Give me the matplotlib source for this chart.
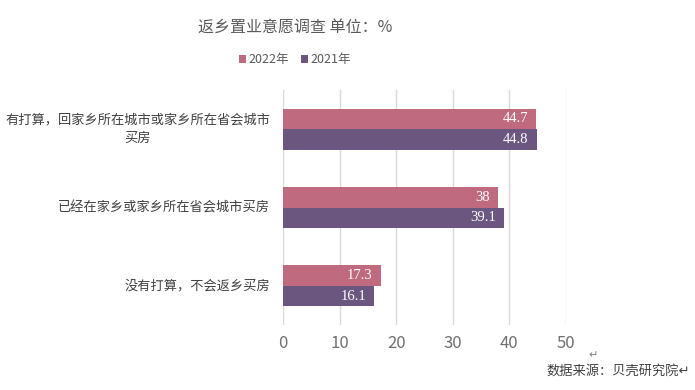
import matplotlib
matplotlib.use("Agg")
import matplotlib.pyplot as plt
import numpy as np

plt.rcParams['font.family'] = ['Noto Sans CJK SC', 'DejaVu Sans']

categories = ["有打算，回家乡所在城市或家乡所在省会城市\n买房",
              "已经在家乡或家乡所在省会城市买房",
              "没有打算，不会返乡买房"]
series_names = ["2022年", "2021年"]
values_2022 = [44.7, 38, 17.3]
values_2021 = [44.8, 39.1, 16.1]
labels_2022 = ["44.7", "38", "17.3"]
labels_2021 = ["44.8", "39.1", "16.1"]
xticks = [0, 10, 20, 30, 40, 50]

c2022 = "#C06A80"
c2021 = "#6B567F"

fig = plt.figure(figsize=(6.95, 3.9), dpi=100)
ax = fig.add_axes([283/695, 65/390, (566-283)/695, 235/390])

y = np.arange(len(categories))
h = 0.262
b1 = ax.barh(y - h/2, values_2022, height=h, color=c2022, label=series_names[0])
b2 = ax.barh(y + h/2, values_2021, height=h, color=c2021, label=series_names[1])

for bars, labs in ((b1, labels_2022), (b2, labels_2021)):
    for bar, lab in zip(bars, labs):
        ax.annotate(lab, (bar.get_width(), bar.get_y() + bar.get_height()/2),
                    xytext=(-8, 0), textcoords="offset pixels",
                    ha="right", va="center", color="white", fontsize=10.5,
                    family=['Liberation Serif', 'DejaVu Serif'])

ax.set_ylim(len(categories) - 0.5, -0.5)
ax.set_xlim(0, 50)
ax.set_xticks(xticks)
ax.set_xticklabels([str(t) for t in xticks], color="#707070", fontsize=12)
ax.set_yticks(y)
ax.set_yticklabels([])
ax.tick_params(axis="y", length=0)
ax.tick_params(axis="x", length=0, pad=7)
ax.xaxis.grid(True, color="#D9D9D9", linewidth=1)
ax.set_axisbelow(True)
for s in ax.spines.values():
    s.set_visible(False)

# category labels: right aligned block, multi-line centered
label_right = 270
for yi, cat in zip(y, categories):
    ax.annotate(cat, xy=(0, yi), xycoords=("axes fraction", "data"),
                xytext=(label_right - 283, 0), textcoords="offset pixels",
                ha="right", va="center", ma="center",
                color="#404040", fontsize=9.5, linespacing=1.5)

fig.text(295/695, 1 - 28/390, "返乡置业意愿调查 单位：%", ha="center", va="center",
         fontsize=11.5, color="#595959")

fig.legend(handles=[b1, b2], labels=series_names, loc="center",
           bbox_to_anchor=(295/695, 1 - 60/390), ncol=2, frameon=False,
           fontsize=9, handlelength=0.6, handleheight=0.6,
           handletextpad=0.2, columnspacing=0.9, labelcolor="#595959")

fig.text(593/695, 1 - 355/390, "↵", ha="center", va="center", fontsize=8,
         color="#808080", family=['DejaVu Sans'])
fig.text(690/695, 1 - 372/390, "数据来源：贝壳研究院↵", ha="right", va="center",
         fontsize=9.5, color="#404040")

fig.savefig("out.png", dpi=100)
